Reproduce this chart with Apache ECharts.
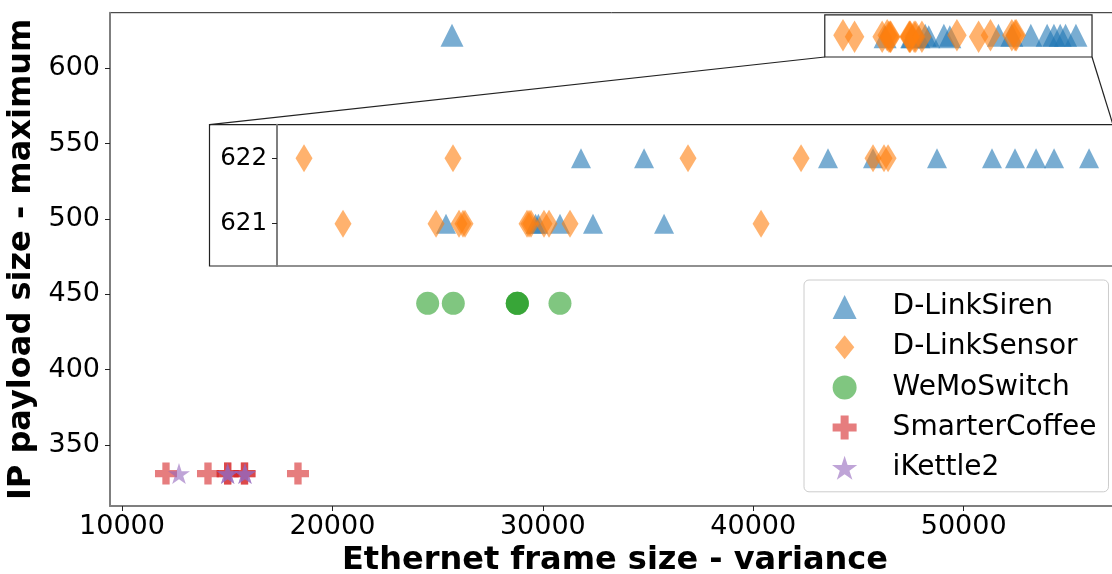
<!DOCTYPE html>
<html><head><meta charset="utf-8">
<script src="https://cdn.jsdelivr.net/npm/echarts@6/dist/echarts.min.js"></script>
<style>html,body{margin:0;padding:0;background:#fff}#c{width:1112px;height:574px}</style>
</head><body><div id="c"></div>
<script>
// ---------- data ----------
const seriesNames = ['D-LinkSiren', 'D-LinkSensor', 'WeMoSwitch', 'SmarterCoffee', 'iKettle2'];
const sirenX  = [25683, 46267, 47530, 47570, 47875, 48340, 49342, 48171, 49060, 51654, 52289, 53191, 53967, 54291, 54588, 54842, 55335];
const sirenY  = [622, 621, 621, 621, 621, 621, 621, 622, 622, 622, 622, 622, 622, 622, 622, 622, 622];
const sensorX = [44265, 46366, 49680, 51274, 52289, 52444, 52501, 44815, 46127, 46451, 46507, 46535, 47410, 47438, 47466, 47649, 47720, 48016, 50710];
const sensorY = [622, 622, 622, 622, 622, 622, 622, 621, 621, 621, 621, 621, 621, 621, 621, 621, 621, 621, 621];
const wemoX   = [24528, 25745, 28787, 28787, 28787, 30815];
const wemoY   = [444, 444, 444, 444, 444, 444];
const coffeeX = [12091, 14087, 15023, 15023, 15822, 15822, 18364];
const coffeeY = [331, 331, 331, 331, 331, 331, 331];
const kettleX = [12709, 15023, 15023, 15845, 15845];
const kettleY = [331, 331, 331, 331, 331];
const xTicks = [10000, 20000, 30000, 40000, 50000];
const yTicks = [350, 400, 450, 500, 550, 600];
const insetYTicks = [621, 622];
const xRange = [9430, 57430];
const yRange = [309.5, 636.9];
const insetXRange = [43884, 55673];
const insetYRange = [620.353, 622.514];
const zoomBoxX = [43400, 56100];
const zoomBoxY = [607.5, 635.4];

// ---------- styling ----------
const colors = ['#1f77b4', '#ff7f0e', '#2ca02c', '#d62728', '#9467bd'];
const FONT = 'DejaVu Sans';
function pairs(x, y) { return x.map((v, i) => [v, y[i]]); }
function starPath() {
  const p = [];
  for (let k = 0; k < 10; k++) {
    const r = k % 2 === 0 ? 1 : 0.381966;
    const a = Math.PI / 2 + k * Math.PI / 5;
    p.push((r * Math.cos(a)).toFixed(4) + ',' + (-r * Math.sin(a)).toFixed(4));
  }
  return 'path://M' + p.join('L') + 'Z';
}
const STAR = starPath();
const PLUS = 'path://M-1,-3L1,-3L1,-1L3,-1L3,1L1,1L1,3L-1,3L-1,1L-3,1L-3,-1L-1,-1Z';
const TRI = 'path://M0,-1L1,1L-1,1Z';
const THIN_DIAMOND_LEG = 'path://M0,-13L10.5,0L0,13L-10.5,0Z';

const allData = [pairs(sirenX, sirenY), pairs(sensorX, sensorY), pairs(wemoX, wemoY), pairs(coffeeX, coffeeY), pairs(kettleX, kettleY)];
const mainSymbols = ['triangle', 'diamond', 'circle', PLUS, STAR];
const mainSizes = [[23, 23], [19.5, 32.5], [23, 23], [22, 22], [22, 21]];
const legendIcons = [TRI, THIN_DIAMOND_LEG, 'circle', PLUS, STAR];

const series = [];
seriesNames.forEach((name, i) => {
  series.push({
    name: name, type: 'scatter', xAxisIndex: 0, yAxisIndex: 0,
    data: allData[i], symbol: mainSymbols[i], symbolSize: mainSizes[i], symbolKeepAspect: false,
    itemStyle: { color: colors[i], opacity: 0.6 }, z: 2 + i * 0.01,
    emphasis: { disabled: true }, animation: false
  });
});
// inset series (same data, zoomed axes)
[0, 1].forEach(i => {
  series.push({
    name: seriesNames[i], type: 'scatter', xAxisIndex: 1, yAxisIndex: 1,
    data: allData[i], symbol: i === 0 ? 'triangle' : 'diamond',
    symbolSize: i === 0 ? [20, 20] : [17, 28], clip: true,
    itemStyle: { color: colors[i], opacity: 0.6 }, z: 6 + i * 0.01,
    emphasis: { disabled: true }, animation: false
  });
});

const labelStyle = { color: '#000', fontFamily: FONT, fontSize: 27 };
const option = {
  animation: false,
  backgroundColor: '#fff',
  grid: [
    { left: 110, top: 12.7, right: -8, bottom: 68, containLabel: false, outerBoundsMode: 'none',
      show: true, borderColor: '#222', borderWidth: 1, backgroundColor: 'transparent' },
    { left: 277, top: 124.7, right: -1, bottom: 308, containLabel: false, outerBoundsMode: 'none', show: false }
  ],
  xAxis: [
    { type: 'value', gridIndex: 0, min: xRange[0], max: xRange[1], splitLine: { show: false },
      axisLine: { show: true, onZero: false, lineStyle: { color: '#7f7f7f', width: 2 } },
      axisTick: { show: true, length: 5, lineStyle: { color: '#222', width: 1 }, customValues: xTicks },
      axisLabel: Object.assign({ margin: 7, customValues: xTicks, formatter: v => String(v) }, labelStyle),
      name: 'Ethernet frame size - variance', nameLocation: 'middle', nameGap: 37,
      nameTextStyle: { color: '#000', fontFamily: FONT, fontSize: 32, fontWeight: 'bold' } },
    { type: 'value', gridIndex: 1, min: insetXRange[0], max: insetXRange[1], show: false, splitLine: { show: false } }
  ],
  yAxis: [
    { type: 'value', gridIndex: 0, min: yRange[0], max: yRange[1], splitLine: { show: false },
      axisLine: { show: true, onZero: false, lineStyle: { color: '#7f7f7f', width: 2 } },
      axisTick: { show: true, length: 5, lineStyle: { color: '#222', width: 1 }, customValues: yTicks },
      axisLabel: Object.assign({ margin: 10, customValues: yTicks, formatter: v => String(v) }, labelStyle),
      name: 'IP payload size - maximum', nameLocation: 'middle', nameGap: 64,
      nameTextStyle: { color: '#000', fontFamily: FONT, fontSize: 32, fontWeight: 'bold' } },
    { type: 'value', gridIndex: 1, min: insetYRange[0], max: insetYRange[1], z: 8, splitLine: { show: false },
      axisLine: { show: true, onZero: false, lineStyle: { color: '#7f7f7f', width: 2 } },
      axisTick: { show: true, length: 5, lineStyle: { color: '#222', width: 1 }, customValues: insetYTicks },
      axisLabel: { margin: 10, customValues: insetYTicks, color: '#000', fontFamily: FONT, fontSize: 24.5, formatter: v => String(v) } }
  ],
  legend: {
    show: true, orient: 'vertical', left: 804, top: 280,
    padding: [13, 12, 10, 28], itemGap: 12.2, itemWidth: 48, itemHeight: 24,
    selectedMode: false, symbolKeepAspect: true,
    backgroundColor: 'rgba(255,255,255,0.8)', borderColor: '#cccccc', borderWidth: 1, borderRadius: 5,
    textStyle: { color: '#000', fontFamily: FONT, fontSize: 28, lineHeight: 27, padding: [0, 0, 0, 19] },
    data: seriesNames.map((n, i) => ({ name: n, icon: legendIcons[i], itemStyle: { color: colors[i], opacity: 0.6 } }))
  },
  series: series
};

const chart = echarts.init(document.getElementById('c'), null, { renderer: 'canvas' });
chart.setOption(option);

// inset frame, zoom box and connector lines
const bl = chart.convertToPixel({ gridIndex: 0 }, [zoomBoxX[0], zoomBoxY[0]]);
const tr = chart.convertToPixel({ gridIndex: 0 }, [zoomBoxX[1], zoomBoxY[1]]);
const frame = { left: 209.5, top: 124.7, right: 1113, bottom: 266 };
chart.setOption({
  graphic: [
    { type: 'rect', z: 4, shape: { x: frame.left, y: frame.top, width: frame.right - frame.left, height: frame.bottom - frame.top },
      style: { fill: '#fff', stroke: '#222', lineWidth: 1.2 } },
    { type: 'rect', z: 4, shape: { x: bl[0], y: tr[1], width: tr[0] - bl[0], height: bl[1] - tr[1] },
      style: { fill: 'none', stroke: '#222', lineWidth: 1.2 } },
    { type: 'line', z: 4, shape: { x1: bl[0], y1: bl[1], x2: frame.left, y2: frame.top }, style: { stroke: '#222', lineWidth: 1.2 } },
    { type: 'line', z: 4, shape: { x1: tr[0], y1: bl[1], x2: frame.right, y2: frame.top }, style: { stroke: '#222', lineWidth: 1.2 } }
  ]
});
</script></body></html>
